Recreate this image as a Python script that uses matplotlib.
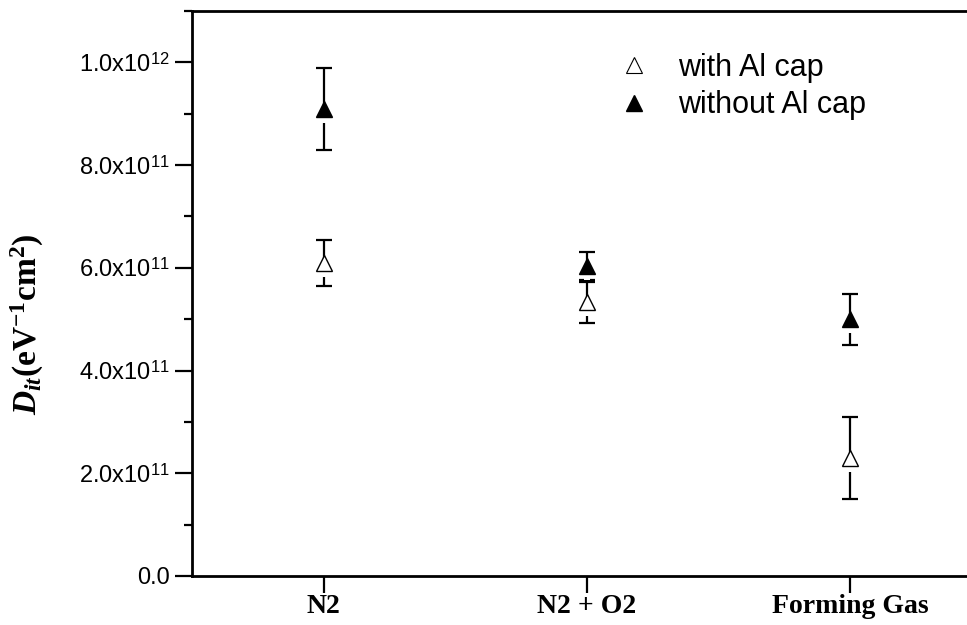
import matplotlib
matplotlib.use('Agg')
import matplotlib.pyplot as plt
from matplotlib.ticker import MultipleLocator, FuncFormatter
from matplotlib.transforms import offset_copy

plt.rcParams['font.family'] = 'Liberation Sans'
plt.rcParams['mathtext.fontset'] = 'custom'
plt.rcParams['mathtext.rm'] = 'Liberation Serif:bold'
plt.rcParams['mathtext.bf'] = 'Liberation Serif:bold'
plt.rcParams['mathtext.it'] = 'Liberation Serif:italic:bold'
plt.rcParams['mathtext.sf'] = 'Liberation Sans'

# data
categories = ['N2', 'N2 + O2', 'Forming Gas']
with_cap = [6.1e11, 5.33e11, 2.3e11]
with_cap_err = [0.45e11, 0.4e11, 0.8e11]
without_cap = [9.1e11, 6.03e11, 5.0e11]
without_cap_err = [0.8e11, 0.27e11, 0.5e11]

x = [1, 2, 3]

fig = plt.figure(figsize=(9.67, 6.25), dpi=100)
ax = fig.add_axes([0.1986, 0.0784, 0.817, 0.904])

# small white patch just below each marker -> gap in the error bar line
below = offset_copy(ax.transData, fig=fig, x=0, y=-8, units='points')

for vals, errs, face in [(without_cap, without_cap_err, 'black'), (with_cap, with_cap_err, 'white')]:
    ax.errorbar(x, vals, yerr=errs, fmt='none', ecolor='black', elinewidth=1.6,
                capsize=6, capthick=1.6, zorder=2)
    ax.plot(x, vals, linestyle='none', marker='s', markersize=4, color='white',
            markeredgewidth=0, transform=below, zorder=3)
    ax.plot(x, vals, linestyle='none', marker='^', markersize=12, markerfacecolor=face,
            markeredgecolor='black', markeredgewidth=1.0, zorder=4)

# legend handles
h1, = ax.plot([], [], linestyle='none', marker='^', markersize=11,
              markerfacecolor='white', markeredgecolor='black', markeredgewidth=0.8)
h2, = ax.plot([], [], linestyle='none', marker='^', markersize=11,
              markerfacecolor='black', markeredgecolor='black')
ax.legend([h1, h2], ['with Al cap', 'without Al cap'], loc='upper left',
          bbox_to_anchor=(0.495, 0.975), frameon=False, fontsize=22,
          handletextpad=0.7, labelspacing=0.25, handlelength=1.5)

ax.set_xlim(0.5, 3.5)
ax.set_ylim(0, 1.1e12)
ax.set_xticks(x)
ax.set_xticklabels(categories, fontfamily='Liberation Serif', fontweight='bold', fontsize=20)

ax.yaxis.set_major_locator(MultipleLocator(2e11))
ax.yaxis.set_minor_locator(MultipleLocator(1e11))


def sci_fmt(v, pos):
    if v == 0:
        return '0.0'
    e = 0
    m = v
    while m >= 10:
        m /= 10
        e += 1
    return '%.1fx10$^{\\mathsf{%d}}$' % (m, e)


ax.yaxis.set_major_formatter(FuncFormatter(sci_fmt))
ax.tick_params(axis='y', labelsize=17)
ax.tick_params(which='major', direction='out', length=12, width=1.6, pad=4)
ax.tick_params(which='minor', direction='out', length=6, width=1.6)
ax.tick_params(axis='x', pad=1)

for s in ['left', 'bottom', 'top']:
    ax.spines[s].set_linewidth(2)
ax.spines['right'].set_visible(False)

ax.set_ylabel(r'$\mathit{D}_{\mathit{it}}\mathrm{(eV^{-1}cm^{2})}$', fontsize=24)
ax.yaxis.set_label_coords(-0.185, 0.446)

fig.savefig('out.png', dpi=100)
